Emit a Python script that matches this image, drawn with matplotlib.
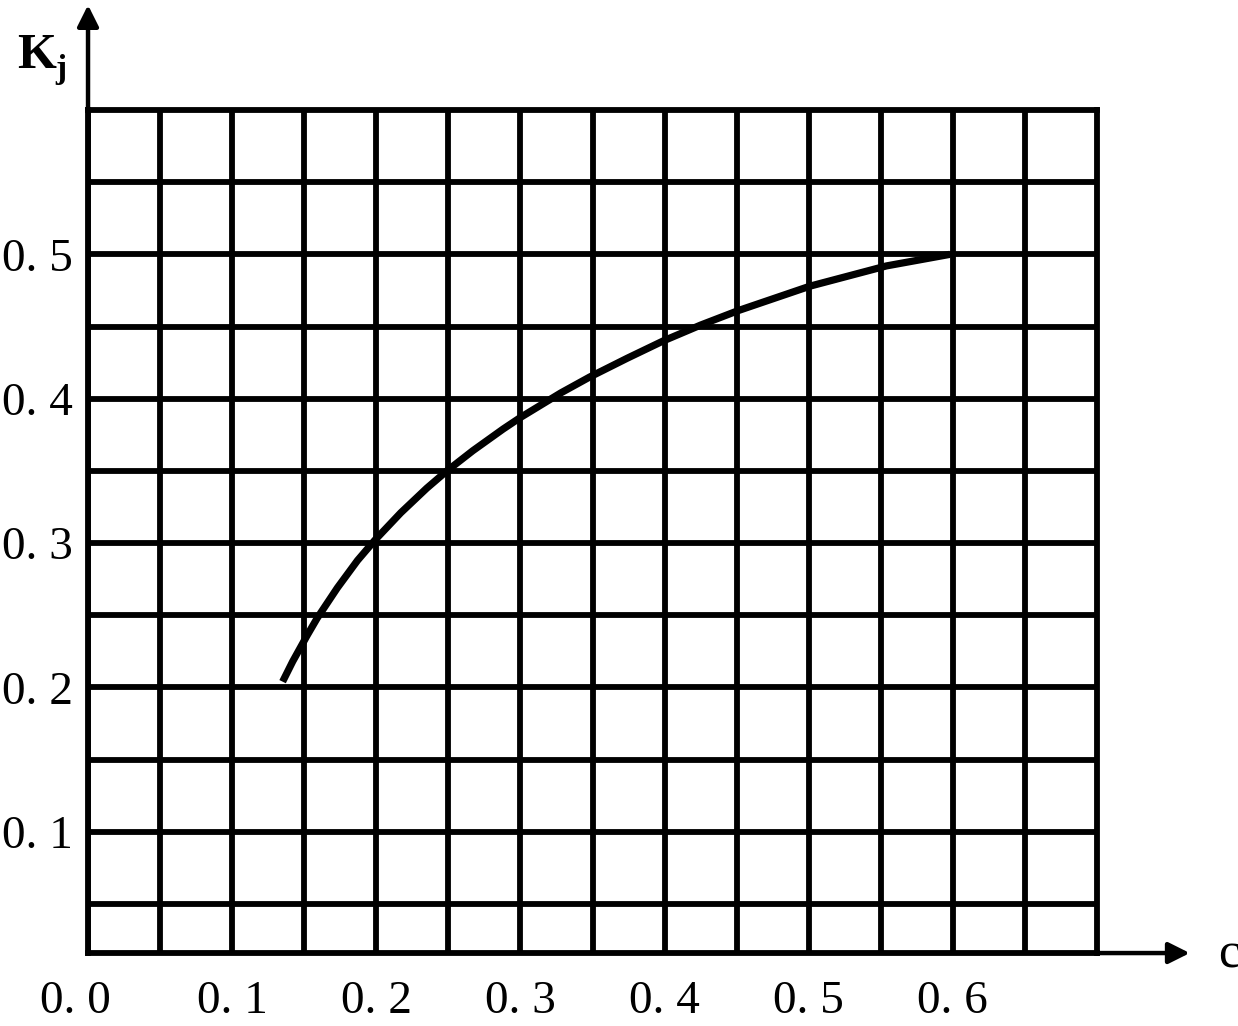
import matplotlib
matplotlib.use('Agg')
import matplotlib.pyplot as plt
import matplotlib.transforms as mtransforms
import numpy as np

# --- data ---
c_vals = [0.135, 0.142, 0.152, 0.159, 0.173, 0.187, 0.199, 0.217, 0.235,
          0.249, 0.267, 0.288, 0.300, 0.328, 0.348, 0.374, 0.399, 0.425,
          0.451, 0.501, 0.554, 0.598]
kj_vals = [0.204, 0.218, 0.236, 0.248, 0.269, 0.288, 0.302, 0.321, 0.338,
           0.350, 0.364, 0.379, 0.387, 0.404, 0.415, 0.428, 0.440, 0.451,
           0.461, 0.478, 0.492, 0.500]

x_ticks = [0.0, 0.1, 0.2, 0.3, 0.4, 0.5, 0.6]
x_labels = ['0. 0', '0. 1', '0. 2', '0. 3', '0. 4', '0. 5', '0. 6']
y_ticks = [0.1, 0.2, 0.3, 0.4, 0.5]
y_labels = ['0. 1', '0. 2', '0. 3', '0. 4', '0. 5']
grid_step = 0.05

plt.rcParams['font.family'] = ['Liberation Serif', 'DejaVu Serif']

# --- prepare figure and axes ---
fig = plt.figure(figsize=(12.38, 10.26), dpi=100)
ax = fig.add_axes([0.0711, 0.0711, 0.8150, 0.8217])
ax.set_xlim(0, 0.7)
ax.set_ylim(0.016, 0.6)

# grid every 0.05 (major + minor so none get dropped)
ax.set_xticks(np.arange(grid_step, 0.7, grid_step), minor=True)
ax.set_yticks(np.arange(grid_step, 0.6, grid_step), minor=True)
ax.set_xticks(x_ticks)
ax.set_xticklabels(x_labels, fontsize=34)
ax.set_yticks(y_ticks)
ax.set_yticklabels(y_labels, fontsize=34)
ax.grid(which='both', color='black', lw=4.2)
ax.tick_params(which='both', length=0)
ax.tick_params(axis='x', pad=20)
ax.tick_params(axis='y', pad=11)

# first x label sits a bit left of the axis
lbl = ax.get_xticklabels()[0]
lbl.set_transform(lbl.get_transform() +
                  mtransforms.ScaledTranslation(-0.13, 0, fig.dpi_scale_trans))

for sp in ax.spines.values():
    sp.set_linewidth(4.2)

# --- curve ---
ax.plot(c_vals, kj_vals, color='black', lw=5.2, solid_capstyle='butt',
        solid_joinstyle='round', zorder=5)

# --- axis arrows ---
arrow = dict(arrowstyle='-|>', color='black', lw=3.2, mutation_scale=32,
             shrinkA=0, shrinkB=0)
ax.annotate('', xy=(0, 1.1245), xytext=(0, 1.0), xycoords='axes fraction',
            textcoords='axes fraction', arrowprops=arrow, annotation_clip=False)
ax.annotate('', xy=(1.092, 0), xytext=(1.0, 0), xycoords='axes fraction',
            textcoords='axes fraction', arrowprops=arrow, annotation_clip=False)

fig.text(0.014, 0.945, 'K', fontsize=36, fontweight='bold', va='center')
fig.text(0.045, 0.932, 'j', fontsize=24, fontweight='bold', va='center')
fig.text(0.984, 0.069, 'c', fontsize=36, va='center')

fig.savefig('out.png', dpi=100)
